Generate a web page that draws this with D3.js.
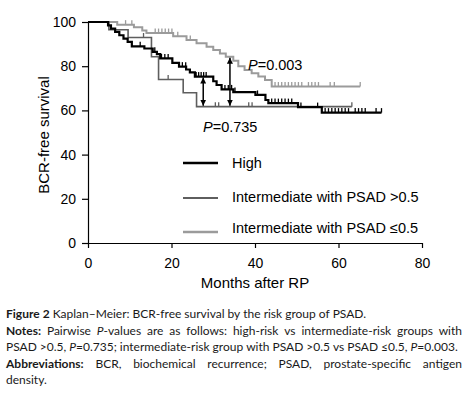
<!DOCTYPE html>
<html>
<head>
<meta charset="utf-8">
<script src="https://cdn.jsdelivr.net/npm/d3@7"></script>
<style>
  body { margin: 0; background: #fff; }
  svg { display: block; }
</style>
</head>
<body>
<script>
// Kaplan-Meier step data (months, % BCR-free)
const highTimes = [0, 4.8, 5.5, 6.5, 7.5, 8.5, 9.5, 10.5, 13.5, 15.5, 16.5, 17.3, 20.2, 21.8, 23.5, 24.4, 25.6, 30, 30.8, 32, 34.8, 40.1, 42.5, 43.2, 50.3, 56];
const highSurv = [100, 98.5, 97, 95.5, 94, 92.5, 91, 89, 88, 86.5, 85.5, 83.5, 81.5, 79.8, 78.5, 77.2, 75.3, 73.2, 71.5, 69.5, 68.3, 67, 64.7, 63.3, 61.5, 59];
const highEnd = 70.3;
const highCensor = [12.5, 16, 17.6, 18.4, 19.2, 22.6, 23.4, 25.9, 26.5, 27.1, 27.7, 28.3, 32.8, 33.6, 34.4, 35.2, 40.6, 44, 44.8, 45.6, 46.4, 47.2, 48, 48.8, 51, 55, 56.8, 57.6, 58.4, 59.2, 60, 60.8, 61.6, 62.4, 64, 64.8, 65.6, 66.4, 69, 70.3];

const midHiTimes = [0, 5, 9.6, 15.2, 16.9, 22.8, 26];
const midHiSurv = [100, 96.5, 93, 84.3, 74, 68, 61.7];
const midHiEnd = 63.2;
const midHiCensor = [13.3, 19.2, 30.5, 31.3, 38.5, 39.3, 63.2];

const midLoTimes = [0, 7, 11, 13, 14, 20.4, 23.6, 26, 28.4, 30, 31.6, 33, 34.8, 36, 37.5, 39.2, 40.8, 42.4, 44];
const midLoSurv = [100, 98.8, 97.6, 96.2, 95, 93.5, 91.9, 90.4, 88.8, 87.3, 85.8, 84.3, 82.5, 80, 78.3, 76.8, 75.3, 73.8, 70.8];
const midLoEnd = 65.2;
const midLoCensor = [9, 10.5, 16.1, 16.9, 17.7, 18.5, 19.3, 20.1, 21.5, 24.5, 44.8, 45.6, 46.4, 47.2, 48, 48.8, 49.6, 50.4, 51.2, 52.8, 53.6, 54.4, 55.2, 58, 59, 65.2];

const xTicks = [0, 20, 40, 60, 80];
const yTicks = [0, 20, 40, 60, 80, 100];
const legendLabels = ["High", "Intermediate with PSAD >0.5", "Intermediate with PSAD \u22640.5"];
const pLabels = ["P=0.735", "P=0.003"];
const arrowTimes = [27.6, 34];

const captionLines = [
  "*Figure* *2* Kaplan\u2013Meier: BCR-free survival by the risk group of PSAD.",
  "*Notes:* Pairwise _P_-values are as follows: high-risk vs intermediate-risk groups with",
  "PSAD >0.5, _P_=0.735; intermediate-risk group with PSAD >0.5 vs PSAD \u22640.5, _P_=0.003.",
  "*Abbreviations:* BCR, biochemical recurrence; PSAD, prostate-specific antigen",
  "density."
];
const captionJustify = [false, true, false, true, false];

const W = 471, H = 396;
const svg = d3.select("body").append("svg")
  .attr("width", W)
  .attr("height", H);

const x = d3.scaleLinear().domain([0, 80]).range([88, 422]);
const y = d3.scaleLinear().domain([0, 100]).range([243, 22]);

const axisFont = "Liberation Sans, Arial, sans-serif";

// axes
const yAxis = svg.append("g")
  .attr("transform", `translate(${x(0)},0)`)
  .call(d3.axisLeft(y).tickValues(yTicks).tickSize(6).tickSizeOuter(0).tickPadding(6));
const xAxis = svg.append("g")
  .attr("transform", `translate(0,${y(0)})`)
  .call(d3.axisBottom(x).tickValues(xTicks).tickSize(5).tickSizeOuter(0).tickPadding(10));

[xAxis, yAxis].forEach(g => {
  g.selectAll("path, line").attr("stroke", "#000").attr("stroke-width", 1.2);
  g.selectAll("text").attr("font-family", axisFont).attr("font-size", 14).attr("fill", "#000");
});

svg.append("text")
  .attr("x", 255)
  .attr("y", 288)
  .attr("text-anchor", "middle")
  .attr("font-family", axisFont)
  .attr("font-size", 15)
  .text("Months after RP");

svg.append("text")
  .attr("transform", "translate(49,135) rotate(-90)")
  .attr("text-anchor", "middle")
  .attr("font-family", axisFont)
  .attr("font-size", 15)
  .text("BCR-free survival");

// curves
const stepLine = d3.line()
  .x(d => x(d[0]))
  .y(d => y(d[1]))
  .curve(d3.curveStepAfter);

function survAt (times, surv, t) {
  return surv[Math.max(0, d3.bisectRight(times, t) - 1)];
}

const groups = [
  { times: midLoTimes, surv: midLoSurv, end: midLoEnd, censor: midLoCensor, color: "#9b9b9b", width: 2 },
  { times: midHiTimes, surv: midHiSurv, end: midHiEnd, censor: midHiCensor, color: "#5e5e5e", width: 1.6 },
  { times: highTimes, surv: highSurv, end: highEnd, censor: highCensor, color: "#000", width: 2.2 }
];

groups.forEach(g => {
  const pts = g.times.map((t, i) => [t, g.surv[i]]);
  pts.push([g.end, g.surv[g.surv.length - 1]]);
  svg.append("path")
    .attr("d", stepLine(pts))
    .attr("fill", "none")
    .attr("stroke", g.color)
    .attr("stroke-width", g.width);

  svg.append("g").selectAll("line")
    .data(g.censor)
    .join("line")
      .attr("x1", d => x(d))
      .attr("x2", d => x(d))
      .attr("y1", d => y(survAt(g.times, g.surv, d)))
      .attr("y2", d => y(survAt(g.times, g.surv, d)) - 4.5)
      .attr("stroke", g.color)
      .attr("stroke-width", 1.3);
});

// double arrows for pairwise comparisons
svg.append("defs").append("marker")
  .attr("id", "head")
  .attr("viewBox", "0 0 10 10")
  .attr("refX", 10)
  .attr("refY", 5)
  .attr("markerWidth", 6)
  .attr("markerHeight", 6)
  .attr("markerUnits", "userSpaceOnUse")
  .attr("orient", "auto-start-reverse")
  .append("path")
    .attr("d", "M0,0L10,5L0,10z")
    .attr("fill", "#000");

const arrowEnds = [
  [survAt(highTimes, highSurv, arrowTimes[0]), survAt(midHiTimes, midHiSurv, arrowTimes[0])],
  [survAt(midLoTimes, midLoSurv, arrowTimes[1]), survAt(midHiTimes, midHiSurv, arrowTimes[1])]
];

svg.append("g").selectAll("line")
  .data(arrowTimes)
  .join("line")
    .attr("x1", d => x(d))
    .attr("x2", d => x(d))
    .attr("y1", (d, i) => y(arrowEnds[i][0]) + 1)
    .attr("y2", (d, i) => y(arrowEnds[i][1]) - 1)
    .attr("stroke", "#000")
    .attr("stroke-width", 1.5)
    .attr("marker-start", "url(#head)")
    .attr("marker-end", "url(#head)");

// p-value labels
const pPos = [[203, 131.5], [248, 70]];
pLabels.forEach((lab, i) => {
  const t = svg.append("text")
    .attr("x", pPos[i][0])
    .attr("y", pPos[i][1])
    .attr("font-family", axisFont)
    .attr("font-size", 14.5);
  t.append("tspan").attr("font-style", "italic").text(lab.slice(0, 1));
  t.append("tspan").text(lab.slice(1));
});

// legend
const legendY = [163, 198, 232];
const legend = svg.append("g");
legendLabels.forEach((lab, i) => {
  const g = groups[2 - i];
  legend.append("line")
    .attr("x1", 183).attr("x2", 218)
    .attr("y1", legendY[i]).attr("y2", legendY[i])
    .attr("stroke", g.color)
    .attr("stroke-width", g.width + 0.3);
  legend.append("text")
    .attr("x", 232)
    .attr("y", legendY[i] + [5, 3.5, 1][i])
    .attr("font-family", axisFont)
    .attr("font-size", 14.5)
    .text(lab);
});

// caption, with bold/italic runs and justified lines
const capFont = "Lato, Open Sans, sans-serif";
const capLeft = 6, capRight = 462;
const capBase = [318, 334.5, 351, 367.5, 384];

function runs (word) {
  return word.match(/(\*[^*]+\*|_[^_]+_|[^*_]+)/g).map(r => {
    if (r[0] === "*") return { text: r.slice(1, -1), bold: true };
    if (r[0] === "_") return { text: r.slice(1, -1), italic: true };
    return { text: r };
  });
}

captionLines.forEach((line, li) => {
  const words = line.split(" ");
  const nodes = words.map(w => {
    const t = svg.append("text")
      .attr("y", capBase[li])
      .attr("font-family", capFont)
      .attr("font-size", 12)
      .attr("fill", "#1a1a1a");
    runs(w).forEach(r => {
      t.append("tspan")
        .attr("font-weight", r.bold ? "bold" : null)
        .attr("font-style", r.italic ? "italic" : null)
        .text(r.text);
    });
    return t;
  });
  const widths = nodes.map(n => n.node().getComputedTextLength());
  const space = 3;
  let gap = space;
  if (captionJustify[li]) {
    gap = (capRight - capLeft - d3.sum(widths)) / (words.length - 1);
  }
  let cx = capLeft;
  nodes.forEach((n, i) => {
    n.attr("x", cx);
    cx += widths[i] + gap;
  });
});
</script>
</body>
</html>
